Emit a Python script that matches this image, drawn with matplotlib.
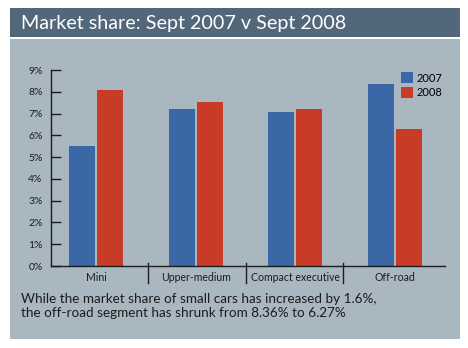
# imports
import matplotlib
matplotlib.use('Agg')
import matplotlib.pyplot as plt
from matplotlib.patches import Rectangle
import numpy as np

# data
categories = ['Mini', 'Upper-medium', 'Compact executive', 'Off-road']
share_2007 = [5.5, 7.2, 7.05, 8.36]
share_2008 = [8.1, 7.55, 7.2, 6.27]
y_ticks = [0, 1, 2, 3, 4, 5, 6, 7, 8, 9]
y_labels = [f'{t}%' for t in y_ticks]

title = 'Market share: Sept 2007 v Sept 2008'
caption = ('While the market share of small cars has increased by 1.6%,\n'
           'the off-road segment has shrunk from 8.36% to 6.27%')

# colours
blue = '#3b67a6'
red = '#c73b27'
panel = '#a9b7c1'
bar_bg = '#52677a'
ink = '#1c1c1c'

plt.rcParams['font.family'] = ['Lato', 'DejaVu Sans']

W, H = 468, 348
fig = plt.figure(figsize=(W / 100, H / 100), dpi=100)
fig.patch.set_facecolor('white')


def px_rect(x0, y0, x1, y1, color):
    # rectangle in pixel coordinates (y from top)
    r = Rectangle((x0 / W, 1 - y1 / H), (x1 - x0) / W, (y1 - y0) / H,
                  transform=fig.transFigure, facecolor=color,
                  edgecolor='none', zorder=0)
    fig.add_artist(r)


# title bar and light panel
px_rect(10, 8, 460, 37, bar_bg)
px_rect(10, 39, 460, 339, panel)
fig.text(21 / W, 1 - 23 / H, title, color='white', fontsize=14.2,
         va='center', ha='left')

# axes
ax = fig.add_axes([51 / W, (H - 266) / H, (445 - 51) / W, (266 - 70) / H])
ax.set_facecolor('none')
x = np.arange(len(categories))
bw = 0.26
ax.bar(x - 0.14, share_2007, width=bw, color=blue, label='2007', zorder=2)
ax.bar(x + 0.14, share_2008, width=bw, color=red, label='2008', zorder=2)

ax.set_xlim(-0.45, 3.5)
ax.set_ylim(0, 9)
for s in ['top', 'right']:
    ax.spines[s].set_visible(False)
for s in ['left', 'bottom']:
    ax.spines[s].set_color(ink)
    ax.spines[s].set_linewidth(1.0)

ax.set_yticks(y_ticks)
ax.set_yticklabels(y_labels, fontsize=7.5, color=ink)
ax.tick_params(axis='y', direction='in', length=7, width=1.0,
               color=ink, pad=6)

# category labels and separators below the axis
ax.set_xticks([])
for i, c in enumerate(categories):
    ax.text(x[i], -0.55, c, ha='center', va='center', fontsize=7.6,
            color=ink, clip_on=False)
for sep in [0.52, 1.5, 2.48]:
    ax.plot([sep, sep], [0.15, -0.8], color=ink, lw=1.0, clip_on=False)

ax.legend(loc='upper right', bbox_to_anchor=(1.005, 1.01), frameon=False,
          fontsize=8, handlelength=1.1, handleheight=1.1,
          handletextpad=0.3, labelspacing=0.3, borderaxespad=0.0)

# caption
fig.text(21 / W, 1 - 306 / H, caption, fontsize=9.7, color=ink,
         va='center', ha='left', linespacing=1.15)

fig.savefig('out.png', dpi=100, facecolor=fig.get_facecolor())
